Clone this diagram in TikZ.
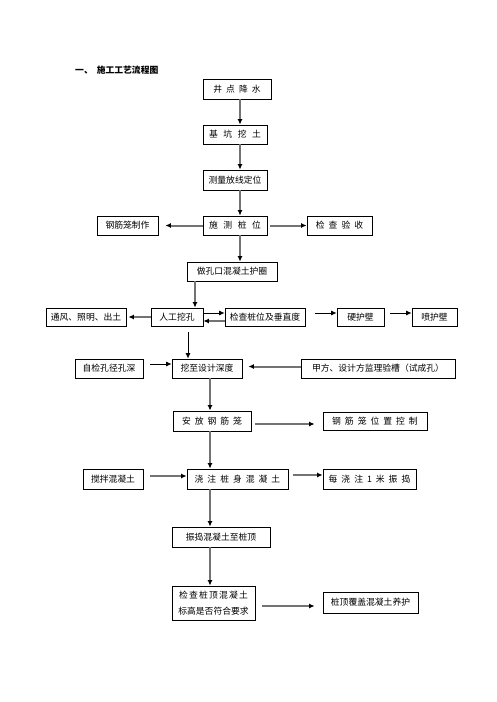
\documentclass[tikz,border=0pt]{standalone}
\usepackage{fontspec}
\setmainfont{Noto Sans CJK SC}
\usetikzlibrary{arrows.meta}
\newcommand\gp{\hspace{4pt}}
\newcommand\gq{\hspace{5.5pt}}
\newcommand\gr{\hspace{1.2pt}}
\begin{document}
\begin{tikzpicture}[x=1pt,y=-1pt,
  box/.style={draw, line width=0.8pt, inner sep=0pt, align=center,
    font=\fontsize{8.8pt}{16pt}\selectfont},
  ga/.style={draw=black!55, line width=2pt,
    -{Latex[length=5.5pt,width=5pt,color=black]}},
  ba/.style={draw=black, line width=0.8pt,
    -{Latex[length=5.5pt,width=5pt]}}]
\useasboundingbox (0,0) rectangle (496,702);
\node[anchor=west, font=\fontsize{8.8pt}{10pt}\selectfont\bfseries, inner sep=0pt] (title) at (75,70) {一、\hspace{4pt}施工工艺流程图};
\coordinate (x240) at (240,0);
\coordinate (x195) at (195,0);
\coordinate (x188) at (188,0);
\coordinate (x210) at (210,0);
\node[box, minimum width=68, minimum height=20] (jd) at (237,89) {井\gp 点\gp 降\gp 水};
\node[box, minimum width=64, minimum height=19] (jk) at (235,134.5) {基\gq 坑\gq 挖\gq 土};
\node[box, minimum width=64, minimum height=20] (cl) at (235,180) {测量放线定位};
\node[box, minimum width=64, minimum height=19] (sc) at (235,225.5) {施\gq 测\gq 桩\gq 位};
\node[box, minimum width=61, minimum height=19] (gj) at (127.5,225.5) {钢筋笼制作};
\node[box, minimum width=65, minimum height=19] (jy) at (339.5,225.5) {检\gp 查\gp 验\gp 收};
\node[box, minimum width=90, minimum height=19] (zk) at (232,271.5) {做孔口混凝土护圈};
\node[box, minimum width=52, minimum height=18] (rg) at (177,317) {人工挖孔};
\node[box, minimum width=80, minimum height=18] (tf) at (86,317) {通风、照明、出土};
\node[box, minimum width=80, minimum height=18] (jc) at (265,317) {检查桩位及垂直度};
\node[box, minimum width=47, minimum height=18] (yh) at (360.5,317) {硬护壁};
\node[box, minimum width=45, minimum height=18] (ph) at (434.5,317) {喷护壁};
\node[box, minimum width=70, minimum height=19] (wz) at (207,368.5) {挖至设计深度};
\node[box, minimum width=68, minimum height=19] (zj) at (109,368.5) {自检孔径孔深};
\node[box, minimum width=154, minimum height=19] (jf) at (378,368.5) {甲方、设计方监理验槽（试成孔）};
\node[box, minimum width=78, minimum height=20] (af) at (212,421) {安\gp 放\gp 钢\gp 筋\gp 笼};
\node[box, minimum width=104, minimum height=18] (wk) at (375,421) {钢\gp 筋\gp 笼\gp 位\gp 置\gp 控\gp 制};
\node[box, minimum width=101, minimum height=20] (jz) at (237.5,479) {浇\gp 注\gp 桩\gp 身\gp 混\gp 凝\gp 土};
\node[box, minimum width=60, minimum height=20] (jb) at (113,479) {搅拌混凝土};
\node[box, minimum width=93, minimum height=20] (mz) at (369.5,479) {每\gp 浇\gp 注\gp 1\gp 米\gp 振\gp 捣};
\node[box, minimum width=98, minimum height=20] (zd) at (221,537) {振捣混凝土至桩顶};
\node[box, minimum width=83, minimum height=34] (ck) at (213.5,603) {检\gr 查\gr 桩\gr 顶\gr 混\gr 凝\gr 土\\标高是否符合要求};
\node[box, minimum width=95, minimum height=21] (fg) at (370.5,602.5) {桩顶覆盖混凝土养护};
% connectors
\draw[ga] (jd.south -| x240) -- (jk.north -| x240);
\draw[ga] (jk.south -| x240) -- (cl.north -| x240);
\draw[ga] (cl.south -| x240) -- (sc.north -| x240);
\draw[ga, shorten >=7pt] (sc.west) -- (gj.east);
\draw[ga, shorten <=3pt] (sc.east) -- (jy.west);
\draw[ga] (sc.south -| x240) -- (zk.north -| x240);
\draw[ga] (zk.south -| x195) -- (rg.north -| x195);
\draw[ga, shorten >=2pt] (rg.west) -- (tf.east);
\draw[ba] ([yshift=4pt]rg.east) -- ([yshift=4pt]jc.west);
\draw[ga] ([yshift=-4pt]jc.west) -- ([yshift=-4pt]rg.east);
\draw[ba, shorten <=10pt] ([yshift=4pt]jc.east) -- ([yshift=4pt]yh.west);
\draw[ba, shorten <=6pt] ([yshift=4pt]yh.east) -- ([yshift=4pt]ph.west);
\draw[ba, shorten <=6pt] (rg.south -| x188) -- (wz.north -| x188);
\draw[ba, shorten <=7pt] ([yshift=4.5pt]zj.east) -- ([yshift=4.5pt]wz.west);
\draw[ga, shorten >=6pt] ([yshift=2pt]jf.west) -- ([yshift=2pt]wz.east);
\draw[ga] (wz.south -| x210) -- (af.north -| x210);
\draw[ga, shorten <=4pt, shorten >=8pt] ([yshift=-3pt]af.east) -- ([yshift=-3pt]wk.west);
\draw[ga] (af.south -| x210) -- (jz.north -| x210);
\draw[ga, shorten <=7pt] ([yshift=3pt]jb.east) -- ([yshift=3pt]jz.west);
\draw[ga, shorten <=5pt] ([yshift=4pt]jz.east) -- ([yshift=4pt]mz.west);
\draw[ga] (jz.south -| x210) -- (zd.north -| x210);
\draw[ga] (zd.south -| x210) -- (ck.north -| x210);
\draw[ga, shorten <=7pt, shorten >=8pt] ([yshift=-3pt]ck.east) -- ([yshift=-3.5pt]fg.west);
\end{tikzpicture}
\end{document}
